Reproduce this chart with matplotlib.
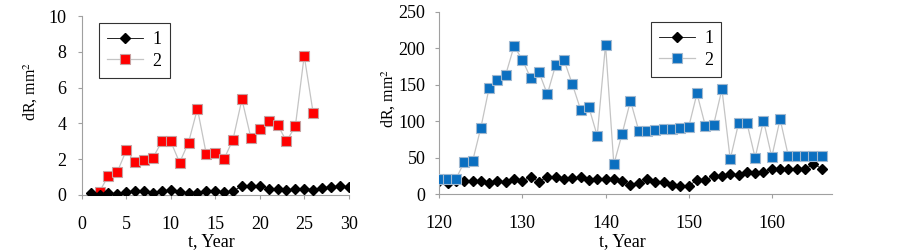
import matplotlib
matplotlib.use("Agg")
import matplotlib.pyplot as plt

plt.rcParams['font.family'] = ['Liberation Serif', 'DejaVu Serif']
plt.rcParams['mathtext.fontset'] = 'stix'

# Left panel
left_t1 = list(range(1, 31))
left_s1 = [0.13, 0.0, 0.13, 0.06, 0.17, 0.22, 0.22, 0.13, 0.22, 0.26,
           0.17, 0.13, 0.13, 0.22, 0.22, 0.17, 0.22, 0.49, 0.49, 0.49,
           0.36, 0.36, 0.26, 0.36, 0.36, 0.30, 0.41, 0.45, 0.52, 0.45]
left_t2 = list(range(2, 27))
left_s2 = [0.19, 1.08, 1.29, 2.49, 1.83, 1.96, 2.07, 2.99, 2.99, 1.81,
           2.93, 4.82, 2.28, 2.37, 2.02, 3.10, 5.35, 3.21, 3.66, 4.15,
           3.93, 3.01, 3.83, 7.78, 4.60]

# Right panel
right_t = list(range(120, 167))
right_s1 = [18, 16, 18, 18, 18, 18, 16, 18, 17, 21,
            18, 24, 17, 24, 24, 21, 22, 24, 19, 21,
            21, 21, 18, 13, 15, 21, 17, 17, 13, 12,
            12, 19, 19, 25, 25, 28, 27, 31, 29, 31,
            35, 35, 35, 35, 34, 42, 35]
right_s2 = [21, 21, 21, 44, 45, 91, 146, 156, 164, 203,
            184, 159, 167, 137, 177, 184, 151, 116, 119, 80,
            205, 41, 83, 128, 87, 87, 88, 90, 90, 91,
            92, 138, 94, 95, 144, 48, 97, 98, 50, 101,
            51, 103, 52, 52, 52, 52, 53]

fig = plt.figure(figsize=(9.02, 2.52), dpi=100)
ax1 = fig.add_axes([0.0906, 0.2262, 0.296, 0.7103])
ax2 = fig.add_axes([0.487, 0.2290, 0.435, 0.7246])

FS = 13
YL = 11.5
spine_c = '#a0a0a0'

def style(ax, ypad):
    for s in ['top', 'right']:
        ax.spines[s].set_visible(False)
    for s in ['left', 'bottom']:
        ax.spines[s].set_color(spine_c)
        ax.spines[s].set_linewidth(0.8)
    ax.tick_params(axis='both', labelsize=FS, color=spine_c, length=3, width=0.8, direction='out')
    ax.tick_params(axis='x', pad=12)
    ax.tick_params(axis='y', pad=ypad)

ax1.plot(left_t1, left_s1, color='black', lw=0.6, marker='D', ms=4.6,
         mfc='black', mec='black', label='1', zorder=3)
ax1.plot(left_t2, left_s2, color='#c4c4c4', lw=0.9, marker='s', ms=6.6,
         mfc='#ff0000', mec='#c8a0a0', mew=0.8, label='2', zorder=2)
ax1.set_xlim(0, 30)
ax1.set_ylim(0, 10)
ax1.set_xticks(range(0, 31, 5))
ax1.set_yticks(range(0, 11, 2))
style(ax1, 8)
ax1.set_xlabel('t, Year', fontsize=FS)
ax1.set_ylabel('dR, mm$^{2}$', fontsize=YL)
ax1.xaxis.set_label_coords(0.487, -0.212)
ax1.yaxis.set_label_coords(-0.158, 0.58)
leg1 = fig.legend(handles=ax1.get_legend_handles_labels()[0], labels=['1', '2'],
                  loc='upper left', bbox_to_anchor=(0.1098, 0.9087), fontsize=FS,
                  frameon=True, fancybox=False, edgecolor='black',
                  handlelength=2.0, borderpad=0.45, labelspacing=0.25,
                  handletextpad=0.5, borderaxespad=0)
leg1.get_frame().set_linewidth(0.8)

ax2.plot(right_t, right_s1, color='black', lw=0.6, marker='D', ms=4.6,
         mfc='black', mec='black', label='1', zorder=2)
ax2.plot(right_t, right_s2, color='#c4c4c4', lw=0.9, marker='s', ms=6.8,
         mfc='#0b6fc0', mec='#a0b8d0', mew=0.8, label='2', zorder=3)
ax2.set_xlim(120, 167.2)
ax2.set_ylim(0, 250)
ax2.set_xticks(range(120, 161, 10))
ax2.set_yticks(range(0, 251, 50))
style(ax2, 7)
ax2.set_xlabel('t, Year', fontsize=FS)
ax2.set_ylabel('dR, mm$^{2}$', fontsize=YL)
ax2.xaxis.set_label_coords(0.467, -0.212)
ax2.yaxis.set_label_coords(-0.104, 0.527)
leg2 = fig.legend(handles=ax2.get_legend_handles_labels()[0], labels=['1', '2'],
                  loc='upper left', bbox_to_anchor=(0.7214, 0.9127), fontsize=FS,
                  frameon=True, fancybox=False, edgecolor='black',
                  handlelength=2.0, borderpad=0.45, labelspacing=0.25,
                  handletextpad=0.5, borderaxespad=0)
leg2.get_frame().set_linewidth(0.8)

fig.savefig('out.png', dpi=100)
